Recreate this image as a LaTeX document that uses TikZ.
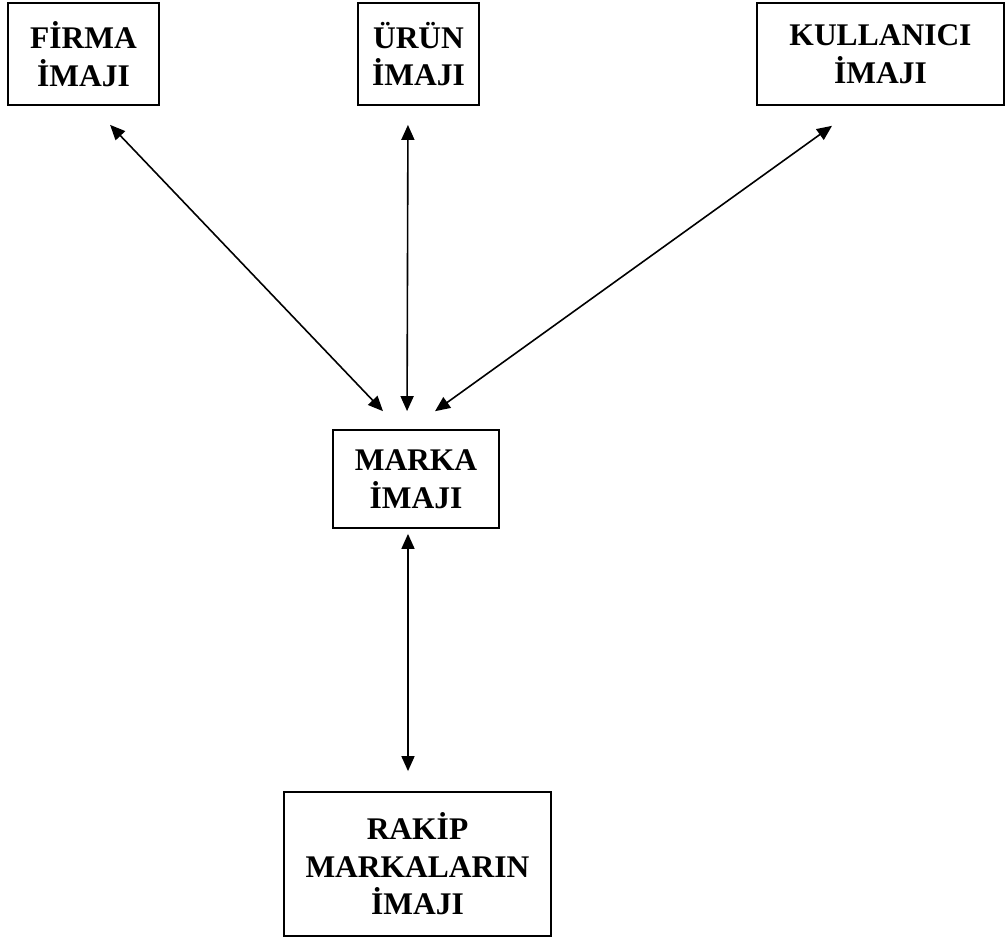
\documentclass[tikz,border=0pt]{standalone}
\usepackage{fontspec}
\setmainfont{Liberation Serif}
\usetikzlibrary{arrows.meta}

\begin{document}
\begin{tikzpicture}[x=1pt,y=-1pt,
    every node/.style={font=\bfseries\fontsize{31.5}{37.5}\selectfont},
    kutu/.style={draw, line width=1.8pt, align=center, inner sep=0pt},
    ok/.style={line width=1.6pt,
      {Triangle[length=15pt,width=13pt]}-{Triangle[length=15pt,width=13pt]}}]

\useasboundingbox (0,0) rectangle (1006,938);

% ==== üst sıra: üç imaj kutusu ====
\node[kutu, minimum width=151pt, minimum height=102pt] (firma) at (83.5,54) {FİRMA\\İMAJI};
\node[kutu, minimum width=121pt, minimum height=102pt] (urun) at (418.5,54) {ÜRÜN\\İMAJI};
\node[kutu, minimum width=247pt, minimum height=102pt] (kullanici) at (880.5,54) {KULLANICI\\İMAJI};

% ==== ortadaki marka kutusu ====
\node[kutu, minimum width=166pt, minimum height=98pt] (marka) at (416,479) {MARKA\\İMAJI};

% ==== alttaki rakip kutusu ====
\node[kutu, minimum width=267pt, minimum height=144pt] (rakip) at (417.5,864) {RAKİP\\MARKALARIN\\İMAJI};

% ==== çift yönlü oklar ====
\draw[ok, shorten <=26.2pt, shorten >=24.8pt] ([xshift=8.5pt]firma.south) -- ([xshift=-15.9pt]marka.north);
\draw[ok, shorten <=19pt, shorten >=18pt] ([xshift=-10.5pt]urun.south) -- ([xshift=-9pt]marka.north);
\draw[ok, shorten <=34.1pt, shorten >=30.7pt] ([xshift=-20.8pt]kullanici.south) -- ([xshift=-5.9pt]marka.north);
\draw[ok, shorten <=5pt, shorten >=20pt] ([xshift=-8pt]marka.south) -- ([xshift=-9.5pt]rakip.north);

\end{tikzpicture}
\end{document}
